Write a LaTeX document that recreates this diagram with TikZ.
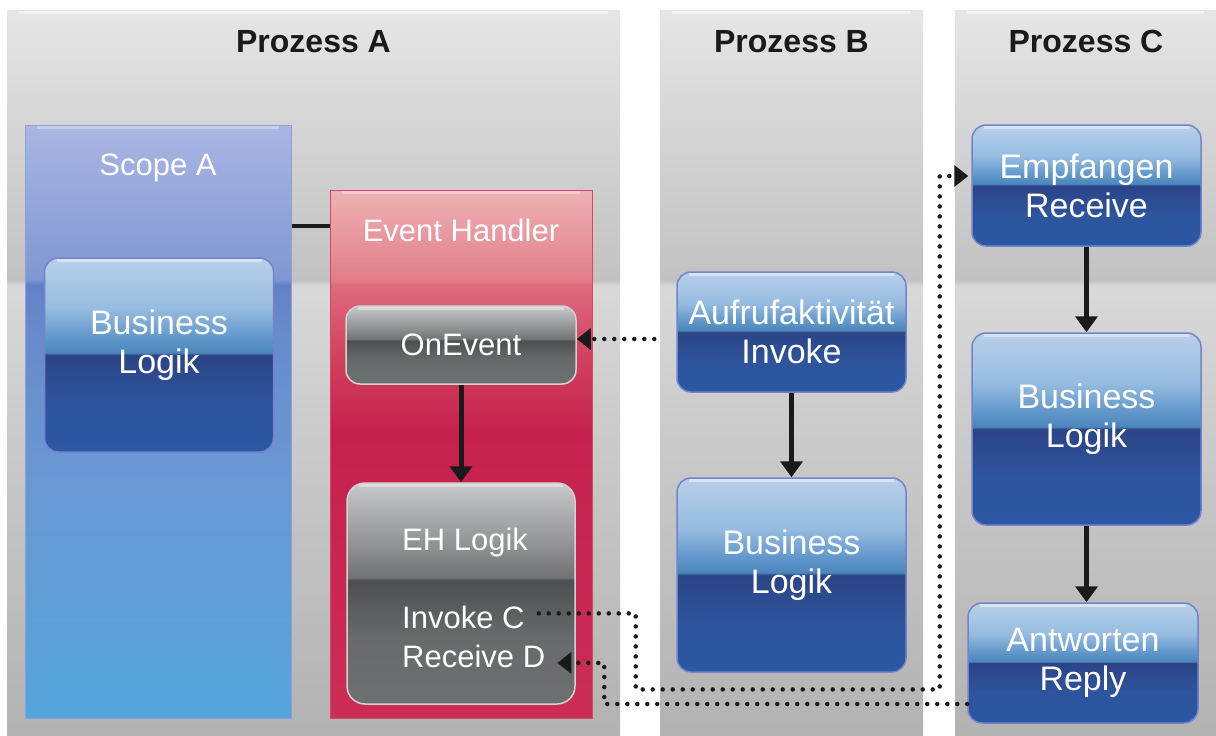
\documentclass[tikz,border=0pt]{standalone}
\usepackage{fontspec}
\setmainfont{Liberation Sans}
\usetikzlibrary{arrows.meta,calc}

% palette
\definecolor{ink}{HTML}{1A1A1A}
\definecolor{blueEdge}{HTML}{7383CC}
\definecolor{grayEdge}{HTML}{D2D2D2}
\definecolor{scopeEdge}{HTML}{8EA0D6}
\definecolor{ehEdge}{HTML}{D04A68}

% glossy vertical shadings (positions run bottom to top; 25bp..75bp spans the shape)
\pgfdeclareverticalshading{laneGloss}{100bp}{%
  color(0bp)=(black!30); color(25bp)=(black!30); color(45bp)=(black!21);
  color(56bp)=(black!15); color(56.4bp)=(black!24); color(66bp)=(black!17);
  color(75bp)=(black!10); color(100bp)=(black!10)}
\pgfdeclareverticalshading{blueGloss}{100bp}{%
  color(0bp)=(rgb,255:red,42;green,88;blue,163); color(25bp)=(rgb,255:red,42;green,88;blue,163);
  color(38bp)=(rgb,255:red,45;green,84;blue,157); color(50bp)=(rgb,255:red,44;green,68;blue,134);
  color(50.6bp)=(rgb,255:red,74;green,134;blue,188); color(55bp)=(rgb,255:red,100;green,153;blue,204);
  color(62bp)=(rgb,255:red,150;green,188;blue,224); color(75bp)=(rgb,255:red,184;green,208;blue,234);
  color(100bp)=(rgb,255:red,184;green,208;blue,234)}
\pgfdeclareverticalshading{grayGloss}{100bp}{%
  color(0bp)=(rgb,255:red,109;green,112;blue,112); color(25bp)=(rgb,255:red,109;green,112;blue,112);
  color(40bp)=(rgb,255:red,104;green,107;blue,107); color(53bp)=(rgb,255:red,76;green,80;blue,80);
  color(53.6bp)=(rgb,255:red,112;green,114;blue,115); color(60bp)=(rgb,255:red,140;green,142;blue,143);
  color(75bp)=(rgb,255:red,199;green,200;blue,201); color(100bp)=(rgb,255:red,199;green,200;blue,201)}
\pgfdeclareverticalshading{scopeGloss}{100bp}{%
  color(0bp)=(rgb,255:red,85;green,165;blue,221); color(25bp)=(rgb,255:red,85;green,165;blue,221);
  color(45bp)=(rgb,255:red,106;green,152;blue,211); color(58bp)=(rgb,255:red,104;green,138;blue,204);
  color(61.5bp)=(rgb,255:red,98;green,128;blue,198); color(62bp)=(rgb,255:red,127;green,151;blue,210);
  color(75bp)=(rgb,255:red,170;green,182;blue,227); color(100bp)=(rgb,255:red,170;green,182;blue,227)}
\pgfdeclareverticalshading{ehGloss}{100bp}{%
  color(0bp)=(rgb,255:red,203;green,45;blue,85); color(25bp)=(rgb,255:red,203;green,45;blue,85);
  color(52bp)=(rgb,255:red,197;green,33;blue,76); color(59bp)=(rgb,255:red,210;green,64;blue,95);
  color(66bp)=(rgb,255:red,222;green,106;blue,126); color(66.4bp)=(rgb,255:red,226;green,125;blue,136);
  color(75bp)=(rgb,255:red,238;green,178;blue,182); color(100bp)=(rgb,255:red,238;green,178;blue,182)}

\tikzset{
  % thin light rim just inside the top edge of a glossy shape
  toprim/.style={path picture={
    \draw[white, opacity=#1, line width=2.5pt]
      ([shift={(12,2.5)}]path picture bounding box.north west) --
      ([shift={(-12,2.5)}]path picture bounding box.north east);}},
  column/.style={rectangle, inner sep=0pt, anchor=north west, shade, shading=laneGloss, toprim=0.5},
  header/.style={text=ink, font=\fontsize{32}{38}\selectfont\bfseries, anchor=base, inner sep=0pt},
  plain/.style={text=white, font=\fontsize{31}{37}\selectfont, inner sep=0pt},
  boxtext/.style={text=white, align=center, font=\fontsize{34}{39}\selectfont},
  bluebox/.style={rectangle, rounded corners=14pt, draw=blueEdge, line width=1.5pt,
    inner sep=0pt, minimum width=229pt, boxtext, shade, shading=blueGloss, toprim=0.45},
  graybox/.style={rectangle, rounded corners=14pt, draw=grayEdge, line width=1.5pt,
    inner sep=0pt, minimum width=229pt, text=white, font=\fontsize{31}{37}\selectfont,
    shade, shading=grayGloss, toprim=0.4},
  flow/.style={draw=ink, line width=5pt, -{Triangle[length=16pt,width=22pt]}},
  msg/.style={draw=ink, line width=4.5pt, line cap=round, dash pattern=on 0pt off 10pt,
    -{Triangle[length=14pt,width=21pt]}},
  link/.style={draw=ink, line width=4pt},
}

\begin{document}
\begin{tikzpicture}[x=1pt,y=-1pt]
\useasboundingbox (0,0) rectangle (1216,736);
\fill[white] (0,0) rectangle (1216,736);

% process lanes
\node[column, minimum width=613pt, minimum height=726pt] (colA) at (7,10) {};
\node[column, minimum width=263pt, minimum height=726pt] (colB) at (660,10) {};
\node[column, minimum width=261pt, minimum height=726pt] (colC) at (955,10) {};

\node[header] (hdrA) at (313.5,52) {Prozess A};
\node[header] (hdrB) at (791.5,52) {Prozess B};
\node[header] (hdrC) at (1086,52) {Prozess C};

% Prozess A: scope and event handler
\node[rectangle, draw=scopeEdge, line width=1pt, inner sep=0pt,
  minimum width=266pt, minimum height=593pt, shade, shading=scopeGloss, toprim=0.35]
  (scopeA) at (158,421.5) {};
\node[plain, anchor=base] (scopeAtitle) at (158,175) {Scope A};

\node[rectangle, draw=ehEdge, line width=1pt, inner sep=0pt,
  minimum width=262pt, minimum height=528pt, shade, shading=ehGloss, toprim=0.35]
  (eh) at (461,454) {};
\node[plain, anchor=base] (ehtitle) at (461,241) {Event Handler};

\coordinate (ehlink) at (0,226);
\draw[link] (scopeA.east |- ehlink) -- (eh.west |- ehlink);

\node[bluebox, minimum height=194pt] (bizA) at (159,355) {};
\node[boxtext] (bizAtext) at (159,345.5) {Business\\Logik};

\node[graybox, minimum width=230pt, minimum height=78pt] (onevent) at (461,345) {OnEvent};
\node[graybox, rounded corners=18pt, minimum width=228pt, minimum height=221pt] (ehlogik) at (461,593.5) {};
\node[plain, anchor=base west] (ehlogiktitle) at (402,550) {EH Logik};
\node[plain, anchor=base west] (invokeC) at (402,628) {Invoke C};
\node[plain, anchor=base west] (receiveD) at (402,667) {Receive D};

% Prozess B
\node[bluebox, minimum height=120pt] (aufruf) at (791.5,332) {Aufrufaktivität\\Invoke};
\node[bluebox, minimum height=194pt] (bizB) at (791.5,575) {};
\node[boxtext] (bizBtext) at (791.5,565.5) {Business\\Logik};

% Prozess C
\node[bluebox, minimum height=121pt] (empf) at (1086.5,185.5) {Empfangen\\Receive};
\node[bluebox, minimum height=192pt] (bizC) at (1086.5,429) {};
\node[boxtext] (bizCtext) at (1086.5,419.5) {Business\\Logik};
\node[bluebox, minimum width=230pt, minimum height=120pt] (reply) at (1083,663) {Antworten\\Reply};

% control flow
\draw[flow] (onevent.south) -- (ehlogik.north);
\draw[flow] (aufruf.south) -- (bizB.north);
\draw[flow] (empf.south) -- (bizC.north);
\draw[flow] (bizC.south) -- (bizC.south |- reply.north);

% messages between processes
\coordinate (callout) at ([shift={(-22,7)}]aufruf.west);
\draw[msg] (callout) -- (callout -| onevent.east);
\draw[msg] ([shift={(14,-3.5)}]invokeC.east) -- ++(97,0) -- ++(0,76) -- ++(304,0)
  |- ([shift={(-3,-9.5)}]empf.west);
\draw[msg] ([shift={(0,41)}]reply.west) -- ++(-363,0) |- ([shift={(12,7)}]receiveD.east);
\end{tikzpicture}
\end{document}
